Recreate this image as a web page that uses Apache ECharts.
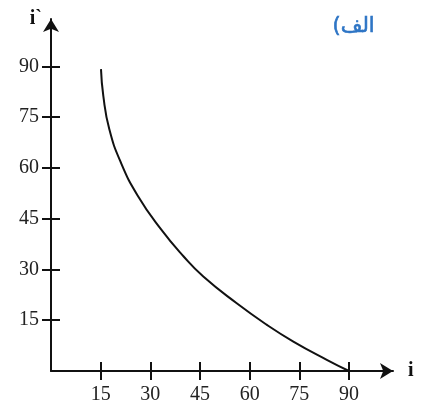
<!DOCTYPE html>
<html>
<head>
<meta charset="utf-8">
<script src="https://cdn.jsdelivr.net/npm/echarts@6/dist/echarts.min.js"></script>
<style>
  html, body { margin: 0; padding: 0; background: #fff; }
  #chart { width: 427px; height: 407px; }
</style>
</head>
<body>
<div id="chart"></div>
<script>
// values
const iValues = [15.1, 15.8, 17.6, 21.1, 26.2, 33.2, 40.0, 46.0, 56.1, 65.1, 73.2, 83.3, 90];
const iPrimeValues = [89.2, 81.3, 71.5, 61.6, 51.8, 41.9, 33.9, 27.9, 20.0, 13.7, 8.7, 3.3, 0];
const tickValues = [15, 30, 45, 60, 75, 90];
const xName = 'i';
const yName = 'i`';
const panelLabel = 'الف)\u200F';

const ink = '#111';
const serif = '"Liberation Serif", "DejaVu Serif", serif';

const gridBox = { left: 51, right: 34, top: 19, bottom: 36 };
const xMax = 103.3;
const yMax = 104;

function mainAxis(name, max, isX) {
  return {
    type: 'value',
    gridIndex: 0,
    min: 0,
    max: max,
    name: name,
    nameLocation: 'end',
    nameGap: isX ? 15 : 0,
    nameTextStyle: isX
      ? { fontFamily: serif, fontSize: 20, fontWeight: 'bold', color: ink, align: 'left', verticalAlign: 'middle' }
      : { fontFamily: serif, fontSize: 20, fontWeight: 'bold', color: ink, align: 'right', verticalAlign: 'middle', padding: [0, 9, 0, 0] },
    splitLine: { show: false },
    axisLine: {
      onZero: false,
      symbol: ['none', 'arrow'],
      symbolSize: [12, 13],
      lineStyle: { color: ink, width: 2 }
    },
    axisTick: {
      customValues: tickValues,
      inside: false,
      length: 9,
      lineStyle: { color: ink, width: 2 }
    },
    axisLabel: {
      customValues: tickValues,
      margin: isX ? 14 : 12,
      fontFamily: serif,
      fontSize: 20,
      color: '#222'
    }
  };
}

// second (hidden) axes on a twin grid give the inner half of each tick
function innerTicks(max) {
  return {
    type: 'value',
    gridIndex: 1,
    min: 0,
    max: max,
    splitLine: { show: false },
    axisLine: { show: false, onZero: false },
    axisLabel: { show: false },
    axisTick: {
      customValues: tickValues,
      inside: true,
      length: 9,
      lineStyle: { color: ink, width: 2 }
    }
  };
}

const chart = echarts.init(document.getElementById('chart'), null, { renderer: 'canvas' });

chart.setOption({
  animation: false,
  backgroundColor: '#fff',
  grid: [
    Object.assign({}, gridBox),
    Object.assign({}, gridBox)
  ],
  xAxis: [mainAxis(xName, xMax, true), innerTicks(xMax)],
  yAxis: [mainAxis(yName, yMax, false), innerTicks(yMax)],
  graphic: [{
    type: 'text',
    right: 52,
    top: 16,
    style: {
      text: panelLabel,
      fontFamily: '"DejaVu Sans", sans-serif',
      fontSize: 21,
      fill: '#2E75C5',
      stroke: '#2E75C5',
      lineWidth: 0.6
    }
  }],
  series: [{
    type: 'line',
    xAxisIndex: 0,
    yAxisIndex: 0,
    smooth: 0.5,
    showSymbol: false,
    lineStyle: { color: ink, width: 2 },
    data: iValues.map((v, k) => [v, iPrimeValues[k]])
  }]
});

window.addEventListener('resize', () => chart.resize());
</script>
</body>
</html>
